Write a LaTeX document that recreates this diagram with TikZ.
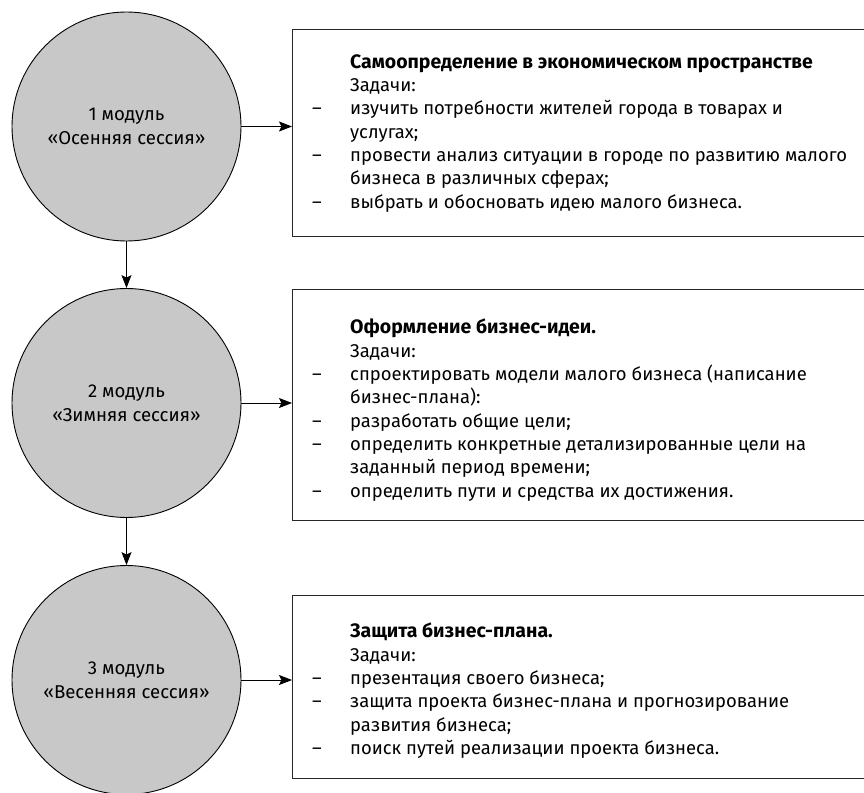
\documentclass[tikz,border=0pt]{standalone}
\usepackage{fontspec}
\setmainfont{Fira Sans}
\usetikzlibrary{arrows.meta}
\definecolor{modgray}{RGB}{200,200,200}
\tikzset{
  modcircle/.style={circle, draw=black, line width=0.9pt, fill=modgray, minimum size=229pt, inner sep=0pt, align=center, font=\fontsize{18.6pt}{24pt}\selectfont},
  taskbox/.style={draw=black!85, line width=1.2pt, minimum width=600pt, anchor=north west, inner sep=0pt},
  tasktext/.style={anchor=north west, inner sep=0pt, align=left, font=\fontsize{18.45pt}{23.3pt}\selectfont},
  conn/.style={line width=0.9pt, -{Stealth[length=13pt,width=10pt,inset=2.5pt]}}
}
\newcommand{\itm}{\makebox[38pt][l]{–}}
\newcommand{\ind}{\hspace*{38pt}}
\newcommand{\fst}{\rule{0pt}{14pt}}
\newcommand{\ttl}[1]{{\fontsize{19.45pt}{23.3pt}\selectfont\bfseries #1}}
\begin{document}
\begin{tikzpicture}[x=1pt,y=-1pt]
\useasboundingbox (0,0) rectangle (864,792);
\clip (0,0) rectangle (864,792);
\fill[white] (0,0) rectangle (864,792);

\node[modcircle] (c1) at (126.5,126.5) {1 модуль\\«Осенняя сессия»};
\node[modcircle] (c2) at (126.5,403) {2 модуль\\«Зимняя сессия»};
\node[modcircle] (c3) at (126.5,680) {3 модуль\\«Весенняя сессия»};

\node[taskbox, minimum height=207pt] (b1) at (292,29) {};
\node[taskbox, minimum height=231pt] (b2) at (292,289) {};
\node[taskbox, minimum height=183pt] (b3) at (292,595) {};

\node[tasktext] (t1) at (312,54) {\fst\ind\ttl{Самоопределение в экономическом пространстве}\\
\ind Задачи:\\
\itm изучить потребности жителей города в товарах и\\
\ind услугах;\\
\itm провести анализ ситуации в городе по развитию малого\\
\ind бизнеса в различных сферах;\\
\itm выбрать и обосновать идею малого бизнеса.};

\node[tasktext] (t2) at (312,319) {\fst\ind\ttl{Оформление бизнес-идеи.}\\
\ind Задачи:\\
\itm спроектировать модели малого бизнеса (написание\\
\ind бизнес-плана):\\
\itm разработать общие цели;\\
\itm определить конкретные детализированные цели на\\
\ind заданный период времени;\\
\itm определить пути и средства их достижения.};

\node[tasktext] (t3) at (312,623) {\fst\ind\ttl{Защита бизнес-плана.}\\
\ind Задачи:\\
\itm презентация своего бизнеса;\\
\itm защита проекта бизнес-плана и прогнозирование\\
\ind развития бизнеса;\\
\itm поиск путей реализации проекта бизнеса.};

\draw[conn] (c1.east) -- (c1.east -| b1.west);
\draw[conn] (c2.east) -- (c2.east -| b2.west);
\draw[conn] (c3.east) -- (c3.east -| b3.west);
\draw[conn] (c1.south) -- (c2.north);
\draw[conn] (c2.south) -- (c3.north);
\end{tikzpicture}
\end{document}
